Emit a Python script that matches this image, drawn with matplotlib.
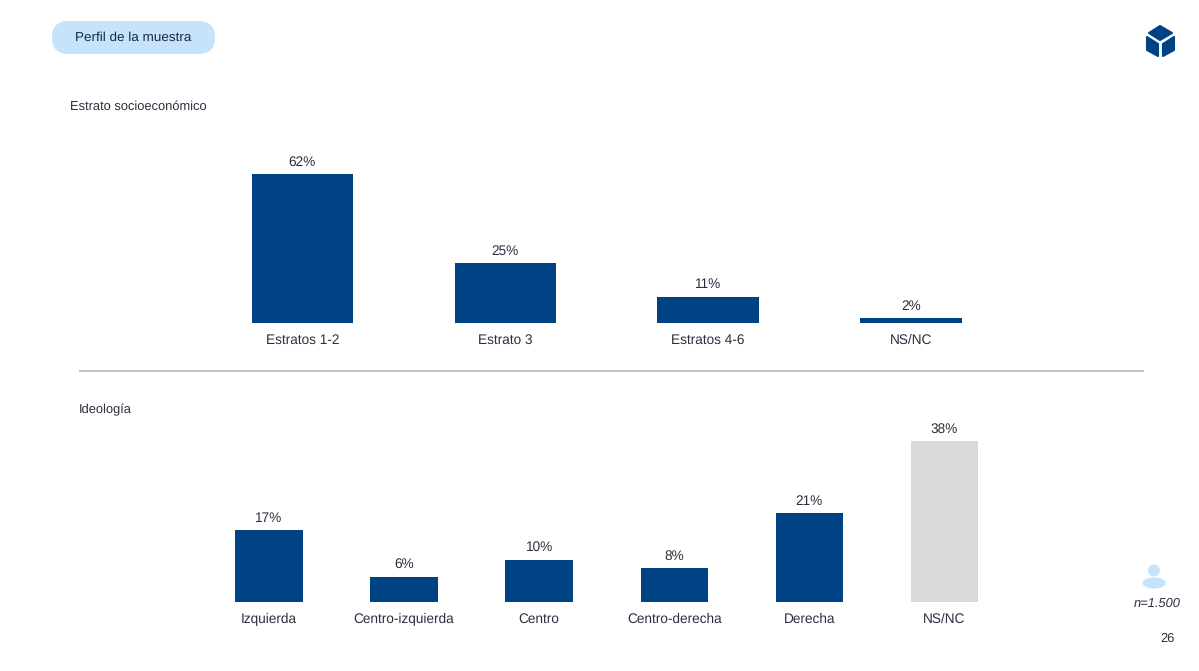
# Perfil de la muestra: estrato and ideologia bars
import matplotlib
matplotlib.use('Agg')
import matplotlib.pyplot as plt
from matplotlib.patches import FancyBboxPatch, Polygon, Circle, Ellipse

plt.rcParams['font.family'] = ['Liberation Sans', 'DejaVu Sans']
plt.rcParams['text.hinting'] = 'no_hinting'

W, H = 1199, 671
NAVY = '#004385'
GREY = '#d9d9d9'
LIGHT = '#c5e3fb'
TEXT = '#2b3040'

estrato_labels = ['Estratos 1-2', 'Estrato 3', 'Estratos 4-6', 'NS/NC']
estrato_values = [62, 25, 11, 2]

ideologia_labels = ['Izquierda', 'Centro-izquierda', 'Centro', 'Centro-derecha', 'Derecha', 'NS/NC']
ideologia_values = [17, 6, 10, 8, 21, 38]
ideologia_colors = [NAVY, NAVY, NAVY, NAVY, NAVY, GREY]


def pixel_axes(fig, left, top, right, bottom):
    # axes placed using pixel coords measured from the top left
    return fig.add_axes([left / W, 1 - bottom / H, (right - left) / W, (bottom - top) / H])


def bar_panel(ax, labels, values, colors, ymax):
    x = range(len(values))
    ax.bar(x, values, width=0.5, color=colors)
    for xi, v in zip(x, values):
        ax.annotate(f'{v}%', xy=(xi, v), xytext=(0, 4), textcoords='offset points',
                    ha='center', va='bottom', fontsize=9.8, color=TEXT)
    ax.set_xlim(-0.5, len(values) - 0.5)
    ax.set_ylim(0, ymax)
    ax.set_xticks(list(x))
    ax.set_xticklabels(labels, fontsize=9.8, color=TEXT)
    ax.tick_params(axis='x', length=0, pad=7.8)
    ax.set_yticks([])
    for s in ax.spines.values():
        s.set_visible(False)
    ax.patch.set_alpha(0)


fig = plt.figure(figsize=(W / 100, H / 100), dpi=100, facecolor='white')

# decorations in pixel coords
bg = fig.add_axes([0, 0, 1, 1])
bg.set_xlim(0, W)
bg.set_ylim(H, 0)
bg.axis('off')

bg.add_patch(FancyBboxPatch((52, 21), 163, 33, boxstyle='round,pad=0,rounding_size=16.5',
                            fc=LIGHT, ec='none'))
bg.text(133, 38, 'Perfil de la muestra', ha='center', va='center', fontsize=9.7, color='#1a2740')
bg.text(69.5, 107, 'Estrato socioeconómico', ha='left', va='center', fontsize=9.25, color=TEXT)
bg.text(79, 410, 'Ideología', ha='left', va='center', fontsize=9.25, color=TEXT)
bg.plot([80, 1143], [371, 371], color='#b9bcc2', lw=1.3)

# cube logo
logo = dict(fc=NAVY, ec=NAVY, lw=1.5, joinstyle='round')
bg.add_patch(Polygon([[1160, 26], [1172, 33], [1160, 40], [1149, 33]], **logo))
bg.add_patch(Polygon([[1147, 37], [1158, 44], [1158, 56], [1147, 50]], **logo))
bg.add_patch(Polygon([[1174, 37], [1163, 44], [1163, 56], [1174, 50]], **logo))

# sample size icon
bg.add_patch(Circle((1154, 570.5), 6, fc=LIGHT, ec='none'))
bg.add_patch(Ellipse((1154, 583), 23, 11, fc=LIGHT, ec='none'))
bg.text(1157, 604, 'n=1.500', ha='center', va='center', fontsize=9.25, style='italic', color=TEXT)
bg.text(1167.5, 638.5, '26', ha='center', va='center', fontsize=9.25, color=TEXT)

# charts
ax1 = pixel_axes(fig, 201, 140, 1012.5, 323)
bar_panel(ax1, estrato_labels, estrato_values, NAVY, 76.2)

ax2 = pixel_axes(fig, 201.5, 420, 1012, 602)
bar_panel(ax2, ideologia_labels, ideologia_values, ideologia_colors, 43)

fig.savefig('out.png', dpi=100)
